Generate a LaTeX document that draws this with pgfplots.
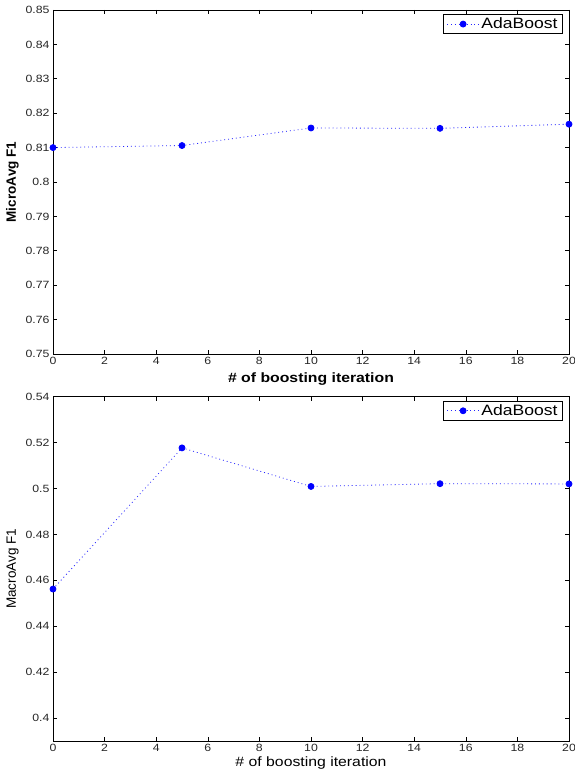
\documentclass[border=0pt]{standalone}
\usepackage{fontspec}
\setmainfont[FakeStretch=1.17]{Liberation Sans}
\newfontfamily\ylfont{Liberation Sans}
\usepackage{pgfplots}
\pgfplotsset{compat=1.18}
\pgfplotstableread{
x y
0 0.8100
5 0.8106
10 0.8157
15 0.8156
20 0.8168
}\microtab
\pgfplotstableread{
x y
0 0.4562
5 0.5177
10 0.5009
15 0.5021
20 0.5020
}\macrotab
\pgfplotsset{
  mystyle/.style={
    scale only axis, width=516pt, height=344pt,
    xmin=0, xmax=20, xtick={0,2,...,20},
    tick align=inside, major tick length=4pt,
    axis line style={line width=0.8pt},
    tick style={black, line width=0.6pt},
    ticklabel style={font=\fontsize{10.5}{11}\selectfont, color=black!85},
    /pgf/number format/assume math mode=true,
    /pgf/number format/fixed,
    /pgf/number format/precision=2,
    scaled y ticks=false,
    legend style={at={(1,1)}, anchor=north east, xshift=-6pt, yshift=-4pt,
      font=\fontsize{15}{16}\selectfont, draw=black, line width=0.8pt,
      inner xsep=3pt, inner ysep=1.5pt, legend cell align=left},
    legend image code/.code={\draw[mark repeat=2, mark phase=2, #1]
      plot coordinates {(0pt,0pt) (16pt,0pt) (32pt,0pt)};},
  },
  myline/.style={blue!85, line width=0.8pt, dash pattern=on 0.9pt off 3pt,
    mark=*, mark size=3pt, mark options={solid, fill=blue, draw=blue}},
}
\begin{document}
\begin{tikzpicture}[x=1pt,y=1pt]
\useasboundingbox (0,0) rectangle (574,770);
\begin{axis}[mystyle, at={(53pt,416pt)}, anchor=south west,
  ymin=0.75, ymax=0.85, ytick={0.75,0.76,...,0.851},
  xlabel={\bfseries\fontsize{13.5}{15}\selectfont \# of boosting iteration},
  ylabel={\ylfont\bfseries\fontsize{13.5}{15}\selectfont MicroAvg F1},
  xlabel style={yshift=-1pt},
]
\addplot[myline] table[x=x,y=y] {\microtab};
\addlegendentry{AdaBoost}
\end{axis}
\begin{axis}[mystyle, at={(53pt,29pt)}, anchor=south west, height=344.3pt,
  ymin=0.39, ymax=0.54, ytick={0.4,0.42,...,0.541},
  xlabel={\fontsize{13.5}{15}\selectfont \# of boosting iteration},
  ylabel={\ylfont\fontsize{13.5}{15}\selectfont MacroAvg F1},
  xlabel style={yshift=2pt},
]
\addplot[myline] table[x=x,y=y] {\macrotab};
\addlegendentry{AdaBoost}
\end{axis}
\end{tikzpicture}
\end{document}
